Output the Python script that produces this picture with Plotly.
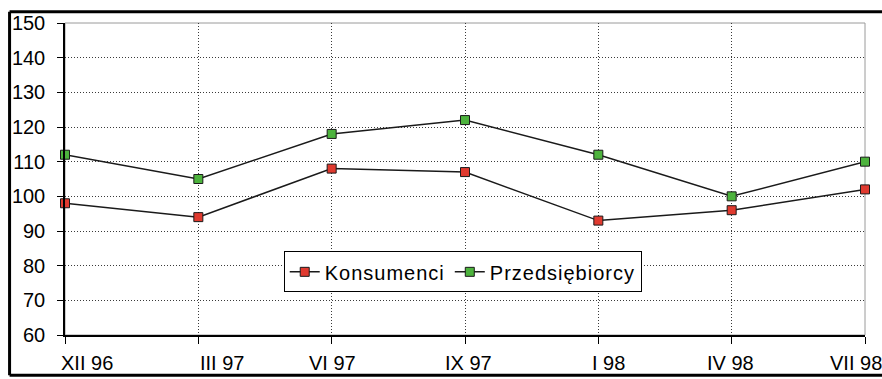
import plotly.graph_objects as go

# Survey periods and index values
periods = ["XII 96", "III 97", "VI 97", "IX 97", "I 98", "IV 98", "VII 98"]
konsumenci = [98, 94, 108, 107, 93, 96, 102]
przedsiebiorcy = [112, 105, 118, 122, 112, 100, 110]
y_ticks = [60, 70, 80, 90, 100, 110, 120, 130, 140, 150]

# Canvas and plot-area geometry (pixels)
W, H = 882, 379
ML, MR, MT, MB = 64, 17, 18, 44
PW, PH = W - ML - MR, H - MT - MB


def paper_x(px):
    return (px - ML) / PW


def paper_y(py):
    return (H - MB - py) / PH


def spaced(text):
    # tracked-out lettering for legend entries
    return '<span style="letter-spacing:1px">' + text + "</span>"


FONT = "Liberation Sans, Arial, sans-serif"
FS = 20
LINE = "#1a1a1a"
GRID_DASH = "1px,2px"

fig = go.Figure()
fig.add_trace(go.Scatter(
    x=periods, y=konsumenci, name=spaced("Konsumenci"), mode="lines+markers",
    cliponaxis=False,
    line=dict(color=LINE, width=1.5),
    marker=dict(symbol="square", size=9, color="#E03A2F",
                line=dict(color=LINE, width=1)),
))
fig.add_trace(go.Scatter(
    x=periods, y=przedsiebiorcy, name=spaced("Przedsiębiorcy"), mode="lines+markers",
    cliponaxis=False,
    line=dict(color=LINE, width=1.5),
    marker=dict(symbol="square", size=9, color="#4DB33D",
                line=dict(color=LINE, width=1)),
))

# Category labels under the axis, nudged the way the spreadsheet lays them out
label_dx = [22, 24, 1, 3, 10, -1, -9]
annotations = []
for p, dx in zip(periods, label_dx):
    annotations.append(dict(
        x=p, xref="x", y=0, yref="paper", text=p, showarrow=False,
        xanchor="center", yanchor="middle", xshift=dx, yshift=-28,
        font=dict(family=FONT, size=FS, color="black"),
    ))

# Outer chart border: left, top and bottom edges (right edge lies off the canvas)
bx0, bx1 = paper_x(8.5), paper_x(884)
by0, by1 = paper_y(376), paper_y(6.5)
border = dict(color="black", width=3)
shapes = [
    # light frame around the plot area
    dict(type="rect", xref="paper", yref="paper", x0=0, x1=1, y0=0, y1=1,
         line=dict(color="#9a9a9a", width=1), layer="below"),
    dict(type="line", xref="paper", yref="paper", x0=bx0, x1=bx0, y0=by0, y1=by1, line=border),
    dict(type="line", xref="paper", yref="paper", x0=bx0, x1=bx1, y0=by1, y1=by1, line=border),
    dict(type="line", xref="paper", yref="paper", x0=bx0, x1=bx1, y0=by0, y1=by0, line=border),
]

fig.update_layout(
    width=W, height=H,
    margin=dict(l=ML, r=MR, t=MT, b=MB, pad=0),
    paper_bgcolor="white", plot_bgcolor="white",
    font=dict(family=FONT, size=FS, color="black"),
    showlegend=True,
    legend=dict(
        orientation="h", x=paper_x(283), y=paper_y(250),
        xanchor="left", yanchor="top",
        bgcolor="white", bordercolor="black", borderwidth=1,
        font=dict(family=FONT, size=FS, color="black"),
    ),
    annotations=annotations,
    shapes=shapes,
)

fig.update_xaxes(
    range=[0, 6], showticklabels=False,
    showline=True, linecolor="black", linewidth=1.5,
    ticks="outside", ticklen=7, tickcolor="black", tickwidth=1,
    showgrid=True, gridcolor="#3a3a3a", gridwidth=1, griddash=GRID_DASH,
    zeroline=False,
)
fig.update_yaxes(
    range=[60, 150], tickvals=y_ticks,
    showline=True, linecolor="black", linewidth=1.5,
    ticks="outside", ticklen=6, tickcolor="black", tickwidth=1,
    ticklabelstandoff=8,
    showgrid=True, gridcolor="#3a3a3a", gridwidth=1, griddash=GRID_DASH,
    zeroline=False,
)

fig.write_html("out.html")
